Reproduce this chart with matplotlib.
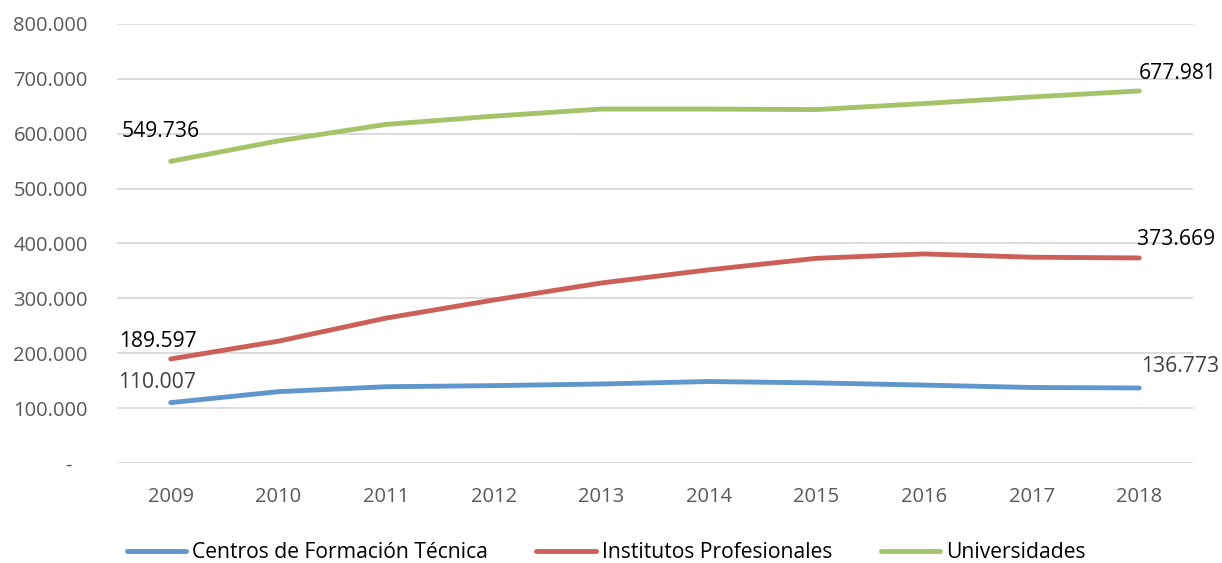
import matplotlib
matplotlib.use('Agg')
import matplotlib.pyplot as plt
from matplotlib.ticker import FuncFormatter

plt.rcParams['font.family'] = ['Open Sans', 'DejaVu Sans']

years = ['2009', '2010', '2011', '2012', '2013', '2014', '2015', '2016', '2017', '2018']
cft = [110007, 130000, 139000, 141000, 144000, 148500, 146000, 142000, 137600, 136773]
ip = [189597, 222000, 264000, 297000, 328000, 352000, 373000, 381000, 375000, 373669]
univ = [549736, 587000, 617000, 632000, 645000, 645000, 644000, 655000, 667000, 677981]

series = [
    ('Centros de Formación Técnica', cft, '#5F96CC'),
    ('Institutos Profesionales', ip, '#CC5F58'),
    ('Universidades', univ, '#A5C46A'),
]

# label offsets in pixels (first point, last point)
offsets = [((-14, 20), (41, 21)), ((-13, 17), (37, 18)), ((-10, 30), (38, 17))]
label_colors = [('#404040', '#404040'), ('black', 'black'), ('black', 'black')]

fig = plt.figure(figsize=(12.22, 5.63), dpi=100)
ax = fig.add_axes([0.0957, 0.1776, 0.8806, 0.7798])

x = list(range(len(years)))
for (name, vals, col), offs, lcols in zip(series, offsets, label_colors):
    ax.plot(x, vals, color=col, lw=3.5, solid_capstyle='round',
            solid_joinstyle='round', label=name)
    for idx, off, lc in zip([0, len(vals) - 1], offs, lcols):
        txt = '{:,}'.format(vals[idx]).replace(',', '.')
        ax.annotate(txt, (x[idx], vals[idx]), xytext=off,
                    textcoords='offset pixels', ha='center', va='center',
                    fontsize=15.2, color=lc)


def fmt(v, pos):
    if v == 0:
        return '-   '
    return '{:,.0f}'.format(v).replace(',', '.')


ax.set_xlim(-0.5, 9.5)
ax.set_ylim(0, 800000)
ax.set_yticks(range(0, 800001, 100000))
ax.yaxis.set_major_formatter(FuncFormatter(fmt))
ax.set_xticks(x)
ax.set_xticklabels(years)
ax.tick_params(axis='both', length=0, labelsize=14.5, colors='#595959')
ax.tick_params(axis='y', pad=21)
ax.tick_params(axis='x', pad=17)
ax.grid(axis='y', color='#D9D9D9', lw=1.3)
ax.set_axisbelow(True)
for s in ax.spines.values():
    s.set_visible(False)

fig.legend(loc='center', bbox_to_anchor=(0.496, 0.018), ncol=3, frameon=False,
           fontsize=15.2, handlelength=2.8, handletextpad=0.3,
           columnspacing=2.3, labelcolor='black')

plt.savefig('out.png', dpi=100)
